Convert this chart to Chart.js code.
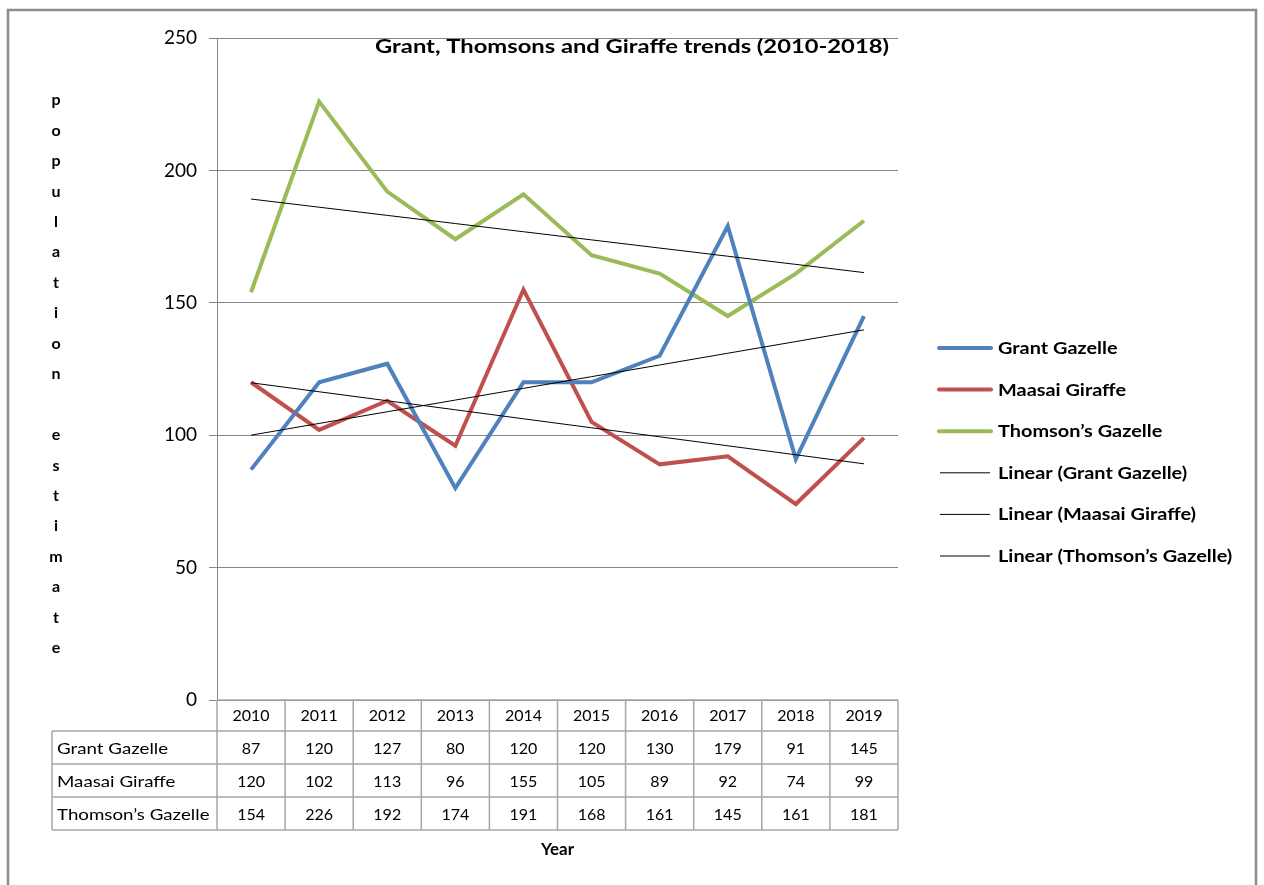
<!DOCTYPE html>
<html>
<head>
<meta charset="utf-8">
<script src="https://cdn.jsdelivr.net/npm/chart.js@4.4.0/dist/chart.umd.min.js"></script>
<style>
  body { margin: 0; background: #fff; }
  #wrap { width: 1264px; height: 885px; }
</style>
</head>
<body>
<div id="wrap"><canvas id="chart"></canvas></div>
<script>
// data

const years = ['2010', '2011', '2012', '2013', '2014', '2015', '2016', '2017', '2018', '2019']
const grantGazelle = [87, 120, 127, 80, 120, 120, 130, 179, 91, 145]
const maasaiGiraffe = [120, 102, 113, 96, 155, 105, 89, 92, 74, 99]
const thomsonsGazelle = [154, 226, 192, 174, 191, 168, 161, 145, 161, 181]
const yTicks = [0, 50, 100, 150, 200, 250]

const seriesNames = ['Grant Gazelle', 'Maasai Giraffe', 'Thomson\u2019s Gazelle']
const seriesColors = ['#4F81BD', '#C0504D', '#9BBB59']
const seriesData = [grantGazelle, maasaiGiraffe, thomsonsGazelle]

// least squares trend, like excel's linear trendline
function linearTrend(values) {
  const n = values.length
  const mx = (n - 1) / 2
  const my = values.reduce((a, b) => a + b, 0) / n
  let sxy = 0, sxx = 0
  values.forEach((v, i) => {
    sxy += (i - mx) * (v - my)
    sxx += (i - mx) * (i - mx)
  })
  const slope = sxy / sxx
  return values.map((v, i) => my + slope * (i - mx))
}

const datasets = []
seriesData.forEach((d, i) => {
  datasets.push({
    label: seriesNames[i],
    data: d,
    borderColor: seriesColors[i],
    backgroundColor: seriesColors[i],
    borderWidth: 4,
    pointRadius: 0,
    tension: 0,
    order: 1,
  })
})
seriesData.forEach((d, i) => {
  datasets.push({
    label: 'Linear (' + seriesNames[i] + ')',
    data: linearTrend(d),
    borderColor: '#000',
    backgroundColor: '#000',
    borderWidth: 1,
    pointRadius: 0,
    order: 0,
  })
})

// calibri is wider than lato, so stretch text a bit
function wideText(c, text, x, y, sx) {
  c.save()
  c.translate(x, y)
  c.scale(sx, 1)
  c.fillText(text, 0, 0)
  c.restore()
}

// frame, title, axis title, legend and data table

const extras = {
  id: 'extras',
  beforeDraw(chart) {
    const c = chart.ctx
    c.save()
    c.fillStyle = '#fff'
    c.fillRect(0, 0, chart.width, chart.height)
    c.strokeStyle = '#8c8c8c'
    c.lineWidth = 2.5
    c.strokeRect(8, 10, 1248, 900)
    c.restore()
  },
  afterDraw(chart) {
    const c = chart.ctx
    const area = chart.chartArea
    const xs = chart.scales.x
    c.save()
    c.fillStyle = '#000'

    // title
    c.font = 'bold 19px Lato'
    c.textAlign = 'center'
    c.textBaseline = 'alphabetic'
    wideText(c, 'Grant, Thomsons and Giraffe trends (2010-2018)', chart.width / 2, 53, 1.25)

    // stacked y axis title
    c.font = 'bold 16px Lato'
    c.textBaseline = 'middle'
    const letters = 'population estimate'.split('')
    letters.forEach((ch, i) => {
      c.fillText(ch, 56, 100 + i * 30.45)
    })

    // legend
    c.textAlign = 'left'
    c.textBaseline = 'alphabetic'
    c.font = 'bold 17px Lato'
    chart.data.datasets.forEach((ds, i) => {
      const y = 348 + i * 41.6
      c.strokeStyle = ds.borderColor
      c.lineWidth = ds.borderWidth
      c.lineCap = ds.borderWidth > 1 ? 'round' : 'butt'
      c.beginPath()
      c.moveTo(ds.borderWidth > 1 ? 939 : 940, y)
      c.lineTo(ds.borderWidth > 1 ? 991 : 990, y)
      c.stroke()
      wideText(c, ds.label, 998, y + 6, 1.17)
    })

    // data table
    const half = (xs.getPixelForValue(1) - xs.getPixelForValue(0)) / 2
    const rows = [700, 731, 764, 797, 830]
    const tableLeft = 52
    c.strokeStyle = '#a6a6a6'
    c.lineWidth = 1.5
    c.lineCap = 'butt'
    c.beginPath()
    c.moveTo(area.left, rows[0])
    c.lineTo(area.right, rows[0])
    for (let r = 1; r < rows.length; r++) {
      c.moveTo(tableLeft, rows[r])
      c.lineTo(area.right, rows[r])
    }
    c.moveTo(tableLeft, rows[1])
    c.lineTo(tableLeft, rows[4])
    for (let k = 0; k <= years.length; k++) {
      const x = xs.getPixelForValue(0) - half + k * half * 2
      c.moveTo(x, rows[0])
      c.lineTo(x, rows[4])
    }
    c.stroke()

    c.font = '16px Lato'
    c.textBaseline = 'middle'
    seriesData.forEach((d, r) => {
      const cy = (rows[r + 1] + rows[r + 2]) / 2 + 1
      c.textAlign = 'left'
      wideText(c, seriesNames[r], 57, cy, 1.17)
      c.textAlign = 'center'
      d.forEach((v, i) => {
        c.fillText(String(v), xs.getPixelForValue(i), cy)
      })
    })
    c.restore()
  }
}

Chart.defaults.font.family = 'Lato'
Chart.defaults.color = '#000'

const ctx = document.getElementById('chart')

new Chart(ctx, {
  type: 'line',
  data: {
    labels: years,
    datasets: datasets,
  },
  options: {
    responsive: true,
    maintainAspectRatio: false,
    animation: false,
    layout: {
      padding: { top: 38, right: 366, bottom: 0, left: 0 },
    },
    plugins: {
      legend: { display: false },
      title: { display: false },
      tooltip: { enabled: false },
    },
    scales: {
      x: {
        offset: true,
        grid: { display: false, drawTicks: false },
        border: { display: false },
        ticks: { color: '#000', font: { size: 16 }, padding: 6, maxRotation: 0 },
        title: {
          display: true,
          text: 'Year',
          color: '#000',
          font: { size: 17, weight: 'bold' },
          padding: { top: 0, bottom: 25 },
        },
        afterFit: s => { s.height = 185 },
      },
      y: {
        min: yTicks[0],
        max: yTicks[yTicks.length - 1],
        ticks: {
          stepSize: yTicks[1] - yTicks[0],
          padding: 12,
          color: '#000',
          font: { size: 19 },
        },
        grid: { color: '#868686', tickLength: 8, tickColor: '#868686' },
        border: { color: '#868686' },
        afterFit: s => { s.width = 217 },
      },
    },
  },
  plugins: [extras],
})
</script>
</body>
</html>
